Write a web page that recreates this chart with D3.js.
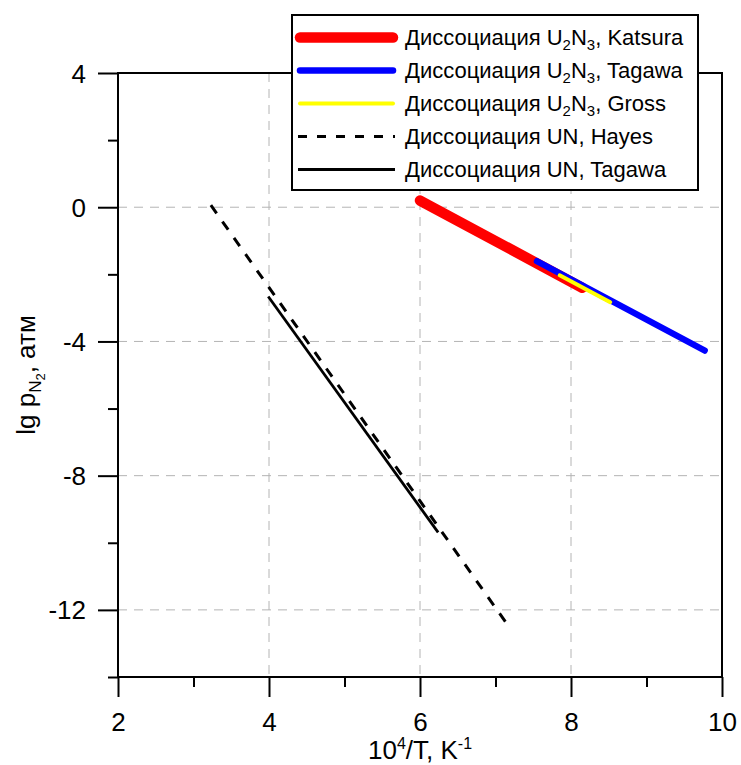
<!DOCTYPE html>
<html><head><meta charset="utf-8">
<script src="https://cdn.jsdelivr.net/npm/d3@7"></script>
<style>
body{margin:0;background:#fff}
svg{display:block;background:#fff}
text{font-family:"Liberation Sans",Arial,sans-serif;fill:#000}
</style>
</head><body>
<svg id="c" width="741" height="765"></svg>
<script>
// ---- data ----
const xMajor = [2, 4, 6, 8, 10];
const xMinor = [3, 5, 7, 9];
const yMajor = [4, 0, -4, -8, -12];
const yMinor = [2, -2, -6, -10, -14];
const xGrid = [4, 6, 8];
const yGrid = [0, -4, -8, -12];

const katsuraX = [6.0, 8.15],  katsuraY = [0.2, -2.4];
const tagawaX  = [7.55, 9.77], tagawaY  = [-1.61, -4.27];
const grossX   = [7.85, 8.52], grossY   = [-2.03, -2.83];
const hayesX   = [3.23, 7.14], hayesY   = [0.06, -12.38];
const unTagX   = [3.99, 6.24], unTagY   = [-2.66, -9.69];

const legendLabels = [
  "Диссоциация U_2N_3, Katsura",
  "Диссоциация U_2N_3, Tagawa",
  "Диссоциация U_2N_3, Gross",
  "Диссоциация UN, Hayes",
  "Диссоциация UN, Tagawa"
];

// ---- layout ----
const svg = d3.select("#c");
const L = 118, R = 722, T = 73, B = 677;
const x = d3.scaleLinear().domain([2, 10]).range([L, R]);
const y = d3.scaleLinear().domain([-14, 4]).range([B, T]);

// grid
const g = svg.append("g");
g.selectAll("line.gx").data(xGrid).enter().append("line")
  .attr("x1", d => x(d)).attr("x2", d => x(d)).attr("y1", T).attr("y2", B)
  .attr("stroke", "#b4b4b4").attr("stroke-width", 1).attr("stroke-dasharray", "9,7");
g.selectAll("line.gy").data(yGrid).enter().append("line")
  .attr("y1", d => y(d)).attr("y2", d => y(d)).attr("x1", L).attr("x2", R)
  .attr("stroke", "#b4b4b4").attr("stroke-width", 1).attr("stroke-dasharray", "9,7");

// series
const series = [
  {xs: katsuraX, ys: katsuraY, color: "#ff0000", w: 10.5, dash: null, cap: "round"},
  {xs: tagawaX,  ys: tagawaY,  color: "#0000ff", w: 6.5, dash: null, cap: "round"},
  {xs: grossX,   ys: grossY,   color: "#ffff00", w: 4, dash: null, cap: "round"},
  {xs: hayesX,   ys: hayesY,   color: "#000000", w: 3, dash: "10,10", cap: "butt"},
  {xs: unTagX,   ys: unTagY,   color: "#000000", w: 2.8, dash: null, cap: "butt"}
];
const line = d3.line().x(d => x(d[0])).y(d => y(d[1]));
series.forEach(s => {
  const pts = s.xs.map((v, i) => [v, s.ys[i]]);
  svg.append("path").attr("d", line(pts)).attr("fill", "none")
    .attr("stroke", s.color).attr("stroke-width", s.w)
    .attr("stroke-linecap", s.cap)
    .attr("stroke-dasharray", s.dash);
});

// axes
function styleAxis(sel) {
  sel.select(".domain").remove();
  sel.selectAll(".tick line").attr("stroke", "#000").attr("stroke-width", 2);
  sel.selectAll(".tick text").style("font-size", "26px").attr("fill", "#000");
}
const fmt = d => String(d);
svg.append("g").attr("transform", `translate(${L},0)`)
  .call(d3.axisLeft(y).tickValues(yMajor).tickSize(20).tickPadding(12).tickFormat(fmt))
  .call(styleAxis).selectAll(".tick text").attr("dy", "0.35em");
svg.append("g").attr("transform", `translate(${L},0)`)
  .call(d3.axisLeft(y).tickValues(yMinor).tickSize(10).tickFormat(""))
  .call(styleAxis);
svg.append("g").attr("transform", `translate(0,${B})`)
  .call(d3.axisBottom(x).tickValues(xMajor).tickSize(20).tickPadding(16).tickFormat(fmt))
  .call(styleAxis);
svg.append("g").attr("transform", `translate(0,${B})`)
  .call(d3.axisBottom(x).tickValues(xMinor).tickSize(10).tickFormat(""))
  .call(styleAxis);

// frame
svg.append("rect").attr("x", L).attr("y", T).attr("width", R - L).attr("height", B - T)
  .attr("fill", "none").attr("stroke", "#000").attr("stroke-width", 2);

// axis titles
const xt = svg.append("text").attr("x", (L + R) / 2).attr("y", 759)
  .attr("text-anchor", "middle").style("font-size", "26px");
xt.append("tspan").text("10");
xt.append("tspan").text("4").style("font-size", "16px").attr("dy", -10);
xt.append("tspan").text("/T, K").style("font-size", "26px").attr("dy", 10);
xt.append("tspan").text("-1").style("font-size", "16px").attr("dy", -10);

const yt = svg.append("text").attr("transform", `translate(35,${(T + B) / 2}) rotate(-90)`)
  .attr("text-anchor", "middle").style("font-size", "26px");
yt.append("tspan").text("lg p");
yt.append("tspan").text("N").style("font-size", "17px").attr("dy", 6);
yt.append("tspan").text("2").style("font-size", "13px").attr("dy", 4);
yt.append("tspan").text(", атм").style("font-size", "26px").attr("dy", -10);

// legend
const lg = svg.append("g");
lg.append("rect").attr("x", 292).attr("y", 15).attr("width", 406).attr("height", 175)
  .attr("fill", "#fff").attr("stroke", "#000").attr("stroke-width", 2);
legendLabels.forEach((lab, i) => {
  const s = series[i];
  const base = 45 + i * 33;
  const ly = base - 7.5;
  const round = s.cap === "round";
  lg.append("line")
    .attr("x1", round ? 300 : 298).attr("x2", round ? 393 : 395)
    .attr("y1", ly).attr("y2", ly)
    .attr("stroke", s.color).attr("stroke-width", s.w)
    .attr("stroke-linecap", s.cap).attr("stroke-dasharray", s.dash ? "9,10" : null);
  const t = lg.append("text").attr("x", 405).attr("y", base).style("font-size", "22px");
  const parts = lab.split(/(_\d)/);
  let shifted = false;
  parts.forEach(p => {
    if (!p) return;
    if (p.startsWith("_")) {
      t.append("tspan").text(p.slice(1)).style("font-size", "15px").attr("dy", shifted ? 0 : 5);
      shifted = true;
    } else {
      t.append("tspan").text(p).style("font-size", "22px").attr("dy", shifted ? -5 : 0);
      shifted = false;
    }
  });
});
</script>
</body></html>
